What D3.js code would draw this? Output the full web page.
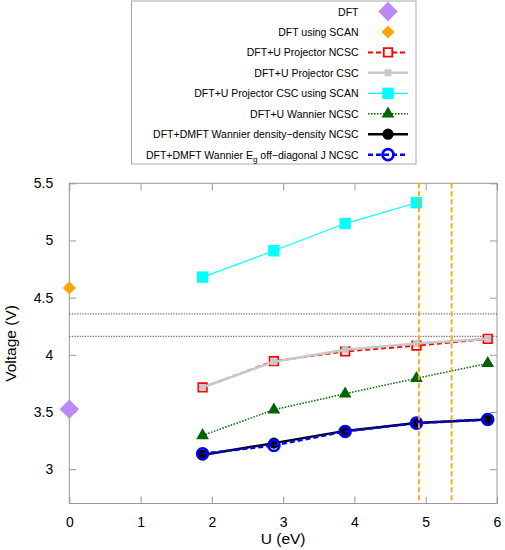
<!DOCTYPE html>
<html><head><meta charset="utf-8">
<script src="https://cdn.jsdelivr.net/npm/d3@7"></script>
<style>body{margin:0;background:#fff}svg{font-family:"Liberation Sans",Arial,sans-serif}</style>
</head><body><svg id="c" width="505" height="550"></svg>
<script>
const uVals = [1.87, 2.87, 3.87, 4.87, 5.87];
const dftU = [0]; const dftV = [3.525];
const scanU = [0]; const scanV = [4.585];
const projNCSC = [3.715, 3.945, 4.03, 4.08, 4.14];
const projCSC = [3.715, 3.94, 4.045, 4.1, 4.14];
const projCSCscan = [4.68, 4.91, 5.148, 5.33];
const wannNCSC = [3.295, 3.52, 3.66, 3.795, 3.925];
const dmftDD = [3.125, 3.228, 3.335, 3.403, 3.435];
const dmftEg = [3.135, 3.208, 3.33, 3.403, 3.435];
const hLines = [4.359, 4.162];
const vLines = [4.905, 5.363];
const xTicks = [0, 1, 2, 3, 4, 5, 6];
const yTicks = [3, 3.5, 4, 4.5, 5, 5.5];
const legendLabels = ["DFT", "DFT using SCAN", "DFT+U Projector NCSC", "DFT+U Projector CSC",
  "DFT+U Projector CSC using SCAN", "DFT+U Wannier NCSC", "DFT+DMFT Wannier density−density NCSC",
  "DFT+DMFT Wannier E_g off−diagonal J NCSC"];

const svg = d3.select("#c");
const L = 69.3, R = 497, T = 183.3, B = 503.5;
const x = d3.scaleLinear().domain([0, 6]).range([L, R]);
const y = d3.scaleLinear().domain([2.7, 5.5]).range([B, T]);
const axCol = "#999";

svg.append("rect").attr("x", L).attr("y", T).attr("width", R - L).attr("height", B - T)
  .attr("fill", "none").attr("stroke", axCol).attr("stroke-width", 1);

function styleAxis(g) {
  g.select(".domain").remove();
  g.selectAll(".tick line").attr("stroke", axCol);
  g.selectAll(".tick text").attr("fill", "#000").style("font-size", "14px").style("font-family", "Liberation Sans, Arial, sans-serif");
}
svg.append("g").attr("transform", `translate(0,${B})`)
  .call(d3.axisBottom(x).tickValues(xTicks).tickFormat(d3.format("d")).tickSizeInner(-7).tickPadding(14))
  .call(styleAxis);
svg.append("g").attr("transform", `translate(0,${T})`)
  .call(d3.axisTop(x).tickValues(xTicks).tickFormat("").tickSizeInner(-7))
  .call(styleAxis);
svg.append("g").attr("transform", `translate(${L},0)`)
  .call(d3.axisLeft(y).tickValues(yTicks).tickFormat(d => String(d)).tickSizeInner(-7).tickPadding(16))
  .call(styleAxis);
svg.append("g").attr("transform", `translate(${R},0)`)
  .call(d3.axisRight(y).tickValues(yTicks).tickFormat("").tickSizeInner(-7))
  .call(styleAxis);

svg.append("text").attr("x", x(3)).attr("y", 544).attr("text-anchor", "middle")
  .style("font-size", "15.5px").text("U (eV)");
svg.append("text").attr("transform", `translate(16,${(T + B) / 2}) rotate(-90)`).attr("text-anchor", "middle")
  .style("font-size", "15.5px").text("Voltage (V)");

hLines.forEach(v => svg.append("line").attr("x1", L).attr("x2", R).attr("y1", y(v)).attr("y2", y(v))
  .attr("stroke", "#777").attr("stroke-width", 1.3).attr("stroke-dasharray", "1.3,1.3"));

const line = d3.line().x(d => x(d[0])).y(d => y(d[1]));
const sym = (type, size) => d3.symbol().type(type).size(size)();

const series = [
  {u: dftU, v: dftV, line: null, marker: {t: d3.symbolDiamond2, s: 240, fill: "#bb88f5", stroke: "none"}},
  {u: scanU, v: scanV, line: null, marker: {t: d3.symbolDiamond2, s: 110, fill: "#ffa500", stroke: "none"}},
  {u: uVals, v: projNCSC, line: {c: "#ff0000", w: 2, d: "5,3"}, marker: {t: d3.symbolSquare, s: 72, fill: "#fff", stroke: "#ff0000", sw: 1.8}},
  {u: uVals, v: projCSC, line: {c: "#c8c8c8", w: 2.5, d: null}, marker: {t: d3.symbolSquare, s: 48, fill: "#c8c8c8", stroke: "none"}},
  {u: uVals.slice(0, 4), v: projCSCscan, line: {c: "#00ffff", w: 1.2, d: null}, marker: {t: d3.symbolSquare, s: 130, fill: "#00ffff", stroke: "none"}},
  {u: uVals, v: wannNCSC, line: {c: "#006400", w: 1.5, d: "1.5,1.5"}, marker: {t: d3.symbolTriangle, s: 70, fill: "#006400", stroke: "none"}},
  {u: uVals, v: dmftDD, line: {c: "#000", w: 2.5, d: null}, marker: {t: d3.symbolCircle, s: 100, fill: "#000", stroke: "none"}},
  {u: uVals, v: dmftEg, line: {c: "#0000ff", w: 2.5, d: "5,3"}, marker: {t: d3.symbolCircle, s: 95, fill: "none", stroke: "#0000ff", sw: 2.6}}
];

series.forEach(s => {
  const pts = s.u.map((u, i) => [u, s.v[i]]);
  if (s.line) svg.append("path").attr("d", line(pts)).attr("fill", "none")
    .attr("stroke", s.line.c).attr("stroke-width", s.line.w).attr("stroke-dasharray", s.line.d);
  pts.forEach(p => svg.append("path").attr("d", sym(s.marker.t, s.marker.s))
    .attr("transform", `translate(${x(p[0])},${y(p[1])})`)
    .attr("fill", s.marker.fill).attr("stroke", s.marker.stroke).attr("stroke-width", s.marker.sw || 0));
});
vLines.forEach(v => svg.append("line").attr("x1", x(v)).attr("x2", x(v)).attr("y1", T).attr("y2", B)
  .attr("stroke", "#ffa500").attr("stroke-width", 1.8).attr("stroke-dasharray", "5,3"));

const lg = svg.append("g");
lg.append("rect").attr("x", 131.5).attr("y", 1).attr("width", 284.5).attr("height", 163)
  .attr("fill", "#fff").attr("stroke", "#aaa").attr("stroke-width", 1);
legendLabels.forEach((lab, i) => {
  const yy = 11.5 + i * 20.45;
  const t = lg.append("text").attr("x", 358.5).attr("y", yy + 4).attr("text-anchor", "end").style("font-size", "10.5px");
  if (lab.includes("E_g")) {
    const parts = lab.split("E_g");
    t.append("tspan").text(parts[0] + "E");
    t.append("tspan").attr("dy", 3).style("font-size", "8px").text("g");
    t.append("tspan").attr("dy", -3).text(parts[1]);
  } else t.text(lab);
  const s = series[i];
  if (s.line) lg.append("line").attr("x1", 368).attr("x2", 408).attr("y1", yy).attr("y2", yy)
    .attr("stroke", s.line.c).attr("stroke-width", s.line.w).attr("stroke-dasharray", s.line.d);
  lg.append("path").attr("d", sym(s.marker.t, s.marker.s)).attr("transform", `translate(388,${yy})`)
    .attr("fill", s.marker.fill).attr("stroke", s.marker.stroke).attr("stroke-width", s.marker.sw || 0);
});
</script></body></html>
